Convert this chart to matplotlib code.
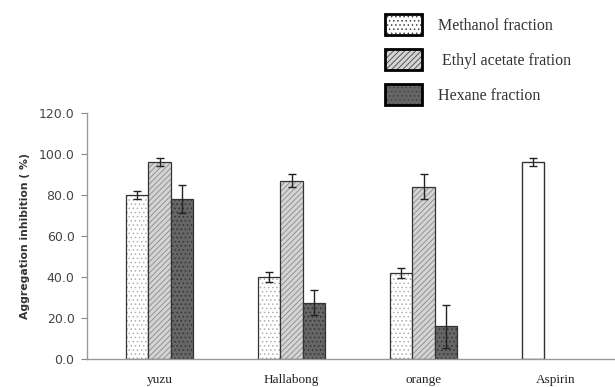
import matplotlib
matplotlib.use("Agg")
import matplotlib.pyplot as plt
import numpy as np
from matplotlib.patches import Patch

categories = ["yuzu", "Hallabong", "orange", "Aspirin"]
fruit_groups = ["yuzu", "Hallabong", "orange"]
methanol = [80.0, 40.0, 42.0]
methanol_err = [2.0, 2.5, 2.5]
ethyl = [96.0, 87.0, 84.0]
ethyl_err = [2.0, 3.0, 6.0]
hexane = [78.0, 27.5, 16.0]
hexane_err = [7.0, 6.0, 10.5]
aspirin = [96.0]
aspirin_err = [2.0]
series_labels = ["Methanol fraction", " Ethyl acetate fration", "Hexane fraction"]
yticks = [0, 20, 40, 60, 80, 100, 120]

plt.rcParams['hatch.linewidth'] = 0.6
fig = plt.figure(figsize=(6.15, 3.87), dpi=100)
ax = fig.add_axes([0.1415, 0.0724, 0.8585, 0.6357])

w = 0.168
x = np.arange(len(fruit_groups))
ekw = dict(ecolor='#222222', elinewidth=1.0, capsize=3, capthick=1.0)
edge = '#333333'

b1 = ax.bar(x - w, methanol, w, yerr=methanol_err, color='white', edgecolor=edge,
            linewidth=0.9, hatch='....', error_kw=ekw)
b2 = ax.bar(x, ethyl, w, yerr=ethyl_err, color='#d4d4d4', edgecolor=edge,
            linewidth=0.9, hatch='//////', error_kw=ekw)
b3 = ax.bar(x + w, hexane, w, yerr=hexane_err, color='#666666', edgecolor=edge,
            linewidth=0.9, hatch='....', error_kw=ekw)
b4 = ax.bar([3 - w], aspirin, w, yerr=aspirin_err, color='white', edgecolor=edge,
            linewidth=1.0, error_kw=ekw)

for p in b1:
    p._hatch_color = matplotlib.colors.to_rgba('#b0b0b0')
for p in b2:
    p._hatch_color = matplotlib.colors.to_rgba('#8a8a8a')
for p in b3:
    p._hatch_color = matplotlib.colors.to_rgba('#333333')

ax.set_xlim(-0.549, 3.45)
ax.set_ylim(0, 120)
ax.set_yticks(yticks)
ax.set_yticklabels([f"{v:.1f}" for v in yticks], fontsize=9, color='#444444',
                   family='DejaVu Sans')
ax.set_xticks(np.arange(len(categories)))
ax.set_xticklabels(categories, fontsize=9.5, family='Liberation Serif', color='#222222')
ax.tick_params(axis='x', length=0, pad=11)
ax.tick_params(axis='y', length=4, color='#888888', direction='out', pad=5)
for s in ['top', 'right']:
    ax.spines[s].set_visible(False)
for s in ['left', 'bottom']:
    ax.spines[s].set_color('#999999')
    ax.spines[s].set_linewidth(1.0)
ax.set_ylabel("Aggregation inhibition ( %)", fontsize=7.8, fontweight='bold',
              color='#333333', family='DejaVu Sans', labelpad=6)

handles = [
    Patch(facecolor='white', edgecolor='black', linewidth=2, hatch='....'),
    Patch(facecolor='#d4d4d4', edgecolor='black', linewidth=2, hatch='//////'),
    Patch(facecolor='#666666', edgecolor='black', linewidth=2, hatch='....'),
]
leg = fig.legend(handles, series_labels, loc='upper left', bbox_to_anchor=(0.603, 1.0),
                 frameon=False, prop={'family': 'Liberation Serif', 'size': 11.5},
                 handlelength=2.3, handleheight=1.6, handletextpad=1.0, labelspacing=0.9)
for t in leg.get_texts():
    t.set_color('#333333')
for h in leg.legend_handles:
    h._hatch_color = matplotlib.colors.to_rgba('#444444')

fig.savefig("out.png", dpi=100)
